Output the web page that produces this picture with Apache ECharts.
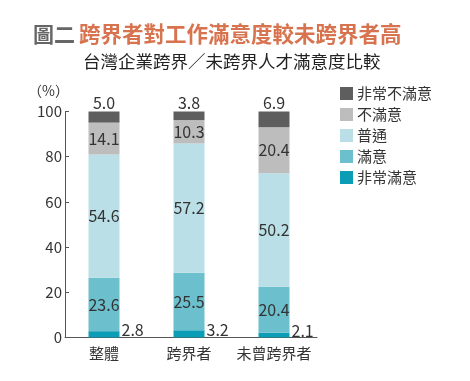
<!DOCTYPE html>
<html><head><meta charset="utf-8">
<script src="https://cdn.jsdelivr.net/npm/echarts@6/dist/echarts.min.js"></script>
<style>html,body{margin:0;padding:0;background:#fff}#c{width:470px;height:381px}</style>
</head><body><div id="c"></div>
<script>
const categories = ['整體', '跨界者', '未曾跨界者'];
const seriesNames = ['非常滿意', '滿意', '普通', '不滿意', '非常不滿意'];
const verySatisfied = [2.8, 3.2, 2.1];
const satisfied = [23.6, 25.5, 20.4];
const neutral = [54.6, 57.2, 50.2];
const dissatisfied = [14.1, 10.3, 20.4];
const veryDissatisfied = [5.0, 3.8, 6.9];
const yMin = 0, yMax = 100, yStep = 20;

const FONT = '"Noto Sans CJK TC", "Noto Sans", sans-serif';
const colors = ['#0a9db5', '#6cbfcc', '#badfe6', '#bdbdbd', '#5e5e5e'];
const values = [verySatisfied, satisfied, neutral, dissatisfied, veryDissatisfied];
const fmt = p => p.value.toFixed(1);

const series = seriesNames.map((name, i) => {
  let label = { show: true, formatter: fmt, fontFamily: FONT, fontSize: 16, color: '#333' };
  if (i === 0) label = Object.assign(label, { position: 'right', distance: 2, offset: [0, -4] });
  else if (i === 4) label = Object.assign(label, { position: 'top', distance: 1 });
  else label.position = 'inside';
  return {
    name, type: 'bar', stack: 'all', xAxisIndex: 0, yAxisIndex: 0,
    barWidth: 31, data: values[i], itemStyle: { color: colors[i] }, label,
    emphasis: { disabled: true }
  };
});

const chart = echarts.init(document.getElementById('c'), null, { renderer: 'canvas' });
chart.setOption({
  animation: false,
  textStyle: { fontFamily: FONT },
  title: [
    {
      text: '{a|圖二} {b|跨界者對工作滿意度較未跨界者高}', left: 28, top: 18,
      textStyle: {
        rich: {
          a: { fontFamily: FONT, fontSize: 21, fontWeight: 'bold', color: '#666' },
          b: { fontFamily: FONT, fontSize: 21.5, fontWeight: 'bold', color: '#d8734f' }
        }
      }
    },
    {
      text: '台灣企業跨界／未跨界人才滿意度比較', left: 78, top: 48,
      textStyle: { fontFamily: FONT, fontSize: 17.5, fontWeight: 'normal', color: '#222' }
    }
  ],
  legend: {
    orient: 'vertical', left: 335, top: 81,
    itemWidth: 13, itemHeight: 13, itemGap: 6,
    icon: 'rect',
    data: seriesNames.slice().reverse(),
    textStyle: { fontFamily: FONT, fontSize: 15, color: '#333', lineHeight: 15, padding: [0, 0, 0, -1] },
    selectedMode: false
  },
  grid: [
    { left: 61.5, width: 255, top: 111.5, height: 226 },
    { left: 65, width: 252, top: 111.5, height: 226 }
  ],
  xAxis: [
    {
      type: 'category', gridIndex: 0, data: categories,
      axisLine: { show: false }, axisTick: { show: false },
      axisLabel: { interval: 0, fontFamily: FONT, fontSize: 15, color: '#333', margin: 8 }
    },
    {
      type: 'value', gridIndex: 1, min: 0, max: 1,
      axisLine: { show: true, onZero: false, lineStyle: { color: '#555', width: 1 } },
      axisTick: { show: false }, axisLabel: { show: false }, splitLine: { show: false }
    }
  ],
  yAxis: [
    { type: 'value', gridIndex: 0, min: yMin, max: yMax, interval: yStep, show: false },
    {
      type: 'value', gridIndex: 1, min: yMin, max: yMax, interval: yStep,
      name: '（%）', nameLocation: 'end', nameGap: 14,
      nameTextStyle: { fontFamily: FONT, fontSize: 14, color: '#333', align: 'right', padding: [0, -4, 0, 0] },
      axisLine: { show: true, lineStyle: { color: '#555', width: 1 } },
      axisTick: { show: true, inside: true, length: 4, lineStyle: { color: '#555' } },
      axisLabel: { fontFamily: FONT, fontSize: 15, color: '#333', margin: 3 },
      splitLine: { show: false }
    }
  ],
  series
});
</script></body></html>
